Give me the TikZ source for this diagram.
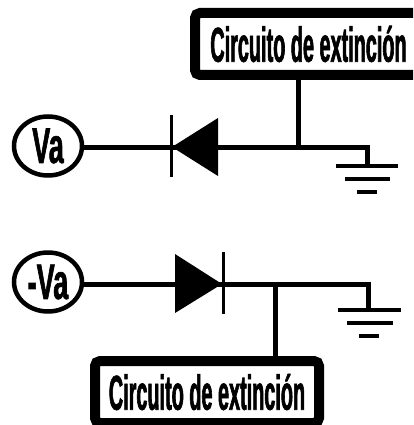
\documentclass[tikz,border=0pt]{standalone}
\usepackage{fontspec}
\usepackage{tikz}
\usetikzlibrary{shapes,arrows}
\newfontfamily\narrowfont[FakeStretch=0.405,FakeBold=1.2]{Liberation Sans Bold}
\newfontfamily\sourcefont[FakeStretch=0.54,FakeBold=1.2]{Liberation Sans Bold}
\tikzstyle{block} = [rectangle, draw, line width=10pt, rounded corners=5pt, fill=white, inner sep=0pt, minimum width=224pt, minimum height=62pt, text centered, font=\narrowfont\fontsize{49}{49}\selectfont]
\tikzstyle{source} = [ellipse, draw, line width=4.5pt, inner sep=0pt, minimum width=68pt, minimum height=59pt, font=\sourcefont\fontsize{50}{50}\selectfont]
\tikzstyle{line} = [draw, line width=5pt]
\tikzstyle{bar} = [draw, line width=3.5pt]

\begin{document}
\begin{tikzpicture}[x=1pt,y=1pt]
\clip (0,0) rectangle (413,-425);
% rectified side
\node [block, minimum width=227pt] (box1) at (308.5,-44) {Circuito de extinción};
\node [source] (va) at (48,-146) {Va};
\coordinate (j1) at (298,-147);
\coordinate (g1) at (367,-147);
\coordinate (e1) at (367,-166);
\path [line] (va.east |- j1) -- (j1);
\path [line] (j1) -- (g1) -- (e1);
\path [line] (box1.south -| j1) -- (j1);
\fill (172,-147) -- (218,-118) -- (218,-176) -- cycle;
\draw [line width=3pt] (171,-115) -- (171,-177);
\draw [bar] (336,-166) -- (398,-166);
\draw [bar] (345,-179) -- (390,-179);
\draw [bar] (357,-192) -- (377,-192);
% inverted side
\node [source] (mva) at (48,-282) {-Va};
\node [block] (box2) at (207,-392) {Circuito de extinción};
\coordinate (j2) at (275,-284);
\coordinate (g2) at (368,-284);
\coordinate (e2) at (368,-310);
\path [line] (mva.east |- j2) -- (j2);
\path [line] (j2) -- (g2) -- (e2);
\path [line] (j2) -- (box2.north -| j2);
\fill (222,-284) -- (175,-254) -- (175,-313) -- cycle;
\draw [line width=3pt] (223,-252) -- (223,-314);
\draw [bar] (338,-310) -- (401,-310);
\draw [bar] (347,-323) -- (393,-323);
\draw [bar] (359,-336) -- (379,-336);
\end{tikzpicture}
\end{document}
